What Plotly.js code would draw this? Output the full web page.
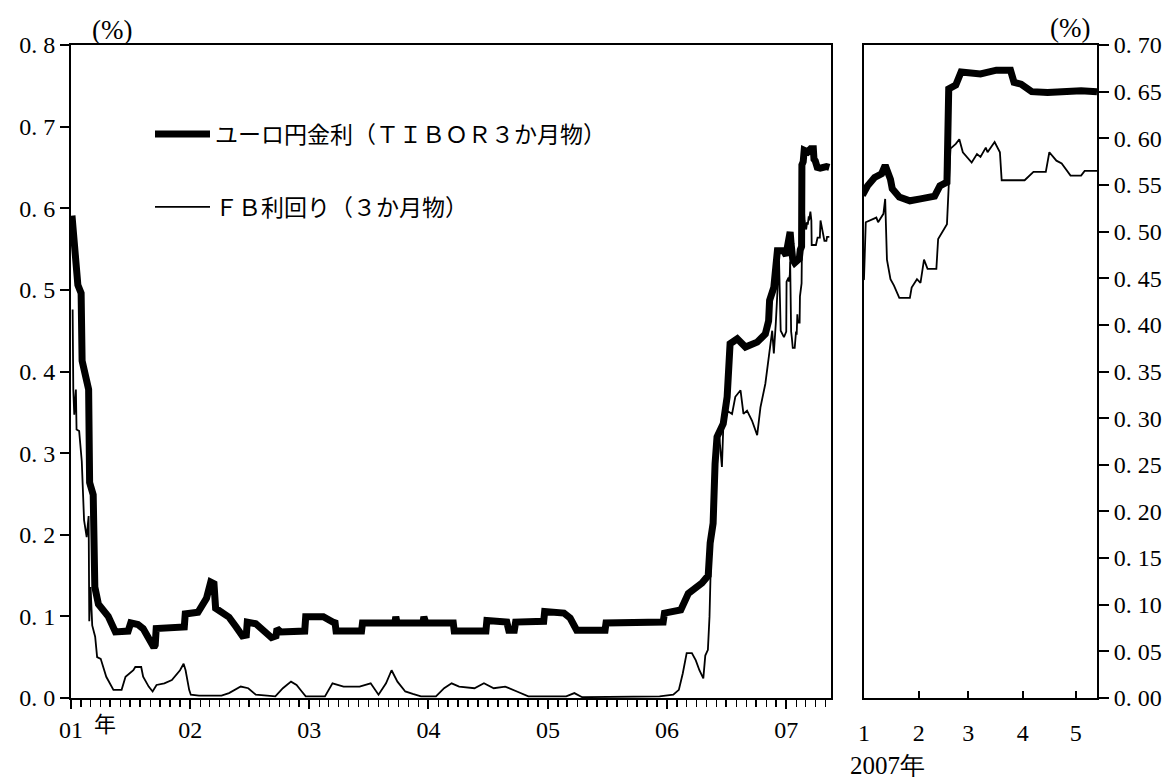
<!DOCTYPE html>
<html>
<head>
<meta charset="utf-8">
<script src="https://cdn.plot.ly/plotly-3.0.1.min.js"></script>
<style>
html,body{margin:0;padding:0;background:#fff;}
#chart{width:1173px;height:784px;}
</style>
</head>
<body>
<div id="chart"></div>
<script>
// ===== Data =====
const tiborName = "ユーロ円金利（ＴＩＢＯＲ３か月物）";
const fbName = "ＦＢ利回り（３か月物）";

const tiborDates = [
"2001-01-04","2001-01-12","2001-01-22","2001-02-01","2001-02-04","2001-02-24","2001-02-27","2001-03-10","2001-03-15","2001-03-26",
"2001-04-25","2001-05-17","2001-06-25","2001-07-03","2001-07-25","2001-08-10","2001-08-26","2001-09-12","2001-09-16","2001-09-19",
"2001-12-14","2001-12-17","2002-01-25","2002-02-20","2002-03-05","2002-03-15","2002-03-20","2002-04-30","2002-05-22","2002-06-10",
"2002-06-22","2002-06-25","2002-07-21","2002-08-14","2002-09-07","2002-09-21","2002-09-24","2002-10-05","2002-12-18","2002-12-21",
"2003-02-13","2003-03-14","2003-03-21","2003-03-24","2003-06-10","2003-06-13","2003-09-20","2003-09-23","2003-09-27","2003-12-15",
"2003-12-18","2003-12-24","2004-03-17","2004-03-20","2004-06-25","2004-06-28","2004-08-28","2004-09-03","2004-09-20","2004-09-24",
"2004-12-19","2004-12-22","2005-02-19","2005-03-10","2005-03-25","2005-03-30","2005-06-25","2005-06-28","2005-12-20","2005-12-24",
"2006-02-12","2006-03-07","2006-04-18","2006-05-07","2006-05-13","2006-05-22","2006-05-28","2006-06-03","2006-06-22","2006-07-04",
"2006-07-13","2006-08-04","2006-08-29","2006-10-04","2006-10-29","2006-11-08","2006-11-11","2006-11-24","2006-11-30","2006-12-05",
"2006-12-24",
"2007-01-01","2007-01-03","2007-01-07","2007-01-11","2007-01-13","2007-01-16","2007-01-17","2007-01-21","2007-01-27","2007-02-02",
"2007-02-10","2007-02-13","2007-02-17","2007-02-18","2007-02-22","2007-02-25","2007-03-08","2007-03-17","2007-03-25","2007-03-27",
"2007-03-31","2007-04-06","2007-04-15","2007-05-04","2007-05-13"
];
const tiborValues = [
0.591,0.548,0.506,0.496,0.413,0.378,0.264,0.249,0.136,0.115,
0.100,0.081,0.082,0.092,0.090,0.085,0.075,0.062,0.065,0.085,
0.087,0.103,0.105,0.122,0.142,0.140,0.110,0.099,0.087,0.076,
0.077,0.093,0.091,0.083,0.074,0.076,0.085,0.081,0.082,0.0995,
0.0995,0.093,0.092,0.082,0.082,0.092,0.092,0.0995,0.092,0.092,
0.0995,0.092,0.092,0.082,0.082,0.095,0.093,0.083,0.083,0.093,
0.094,0.106,0.104,0.098,0.088,0.083,0.083,0.092,0.093,0.104,
0.108,0.128,0.141,0.150,0.190,0.214,0.287,0.320,0.336,0.369,
0.434,0.440,0.430,0.436,0.446,0.462,0.487,0.503,0.528,0.548,
0.548,
0.542,0.549,0.558,0.562,0.571,0.556,0.546,0.537,0.533,0.535,
0.538,0.549,0.553,0.653,0.657,0.671,0.669,0.673,0.673,0.660,
0.658,0.650,0.649,0.651,0.650
];

const fbDates = [
"2001-01-06","2001-01-08","2001-01-11","2001-01-16","2001-01-18","2001-01-26","2001-02-03","2001-02-10","2001-02-18","2001-02-24",
"2001-02-26","2001-03-02","2001-03-07","2001-03-16","2001-03-22","2001-04-02","2001-04-19","2001-05-11","2001-06-05","2001-06-17",
"2001-07-11","2001-07-17","2001-08-04","2001-08-10","2001-08-27","2001-09-08","2001-09-20","2001-10-14","2001-11-06","2001-12-01",
"2001-12-12","2001-12-18","2001-12-29","2002-01-03","2002-01-28","2002-04-07","2002-04-30","2002-06-05","2002-06-28","2002-07-21",
"2002-09-19","2002-10-12","2002-11-06","2002-11-23","2002-12-09","2002-12-21","2003-02-18","2003-03-13","2003-04-16","2003-06-04",
"2003-07-08","2003-08-01","2003-08-24","2003-09-10","2003-09-28","2003-10-22","2003-11-14","2003-12-09","2004-01-24","2004-02-18",
"2004-03-12","2004-04-04","2004-05-21","2004-06-19","2004-07-19","2004-08-23","2004-09-28","2004-11-02","2005-02-26","2005-03-23",
"2005-04-16","2005-12-09","2006-01-20","2006-02-06","2006-02-18","2006-03-02","2006-03-18","2006-03-30","2006-04-10","2006-04-22",
"2006-04-28","2006-05-06","2006-05-11","2006-05-16","2006-05-22","2006-06-01","2006-06-10","2006-06-18","2006-06-22","2006-07-04",
"2006-07-19","2006-07-29","2006-08-14","2006-08-23","2006-09-03","2006-09-18","2006-10-04","2006-10-14","2006-10-29","2006-11-09",
"2006-11-19","2006-11-24","2006-11-30","2006-12-10","2006-12-15","2006-12-25",
"2007-01-01","2007-01-02","2007-01-06","2007-01-08","2007-01-09","2007-01-12","2007-01-13","2007-01-14","2007-01-16","2007-01-18",
"2007-01-21","2007-01-27","2007-01-28","2007-01-31","2007-02-02","2007-02-04","2007-02-06","2007-02-11","2007-02-12","2007-02-15",
"2007-02-17","2007-02-18","2007-02-19","2007-02-22","2007-02-24","2007-02-26","2007-03-03","2007-03-06","2007-03-08","2007-03-11",
"2007-03-12","2007-03-16","2007-03-19","2007-03-20","2007-04-02","2007-04-07","2007-04-14","2007-04-16","2007-04-20","2007-04-23",
"2007-04-28","2007-05-04","2007-05-06","2007-05-13"
];
const fbValues = [
0.476,0.378,0.347,0.378,0.329,0.327,0.290,0.218,0.197,0.223,
0.094,0.136,0.089,0.075,0.050,0.048,0.026,0.010,0.010,0.026,
0.034,0.038,0.038,0.026,0.014,0.008,0.016,0.018,0.022,0.034,
0.042,0.034,0.010,0.004,0.003,0.003,0.006,0.014,0.012,0.004,
0.002,0.012,0.020,0.016,0.008,0.002,0.002,0.018,0.014,0.014,
0.018,0.004,0.018,0.034,0.020,0.008,0.005,0.002,0.002,0.012,
0.018,0.014,0.012,0.018,0.012,0.014,0.008,0.002,0.002,0.006,
0.001,0.002,0.004,0.010,0.030,0.055,0.055,0.046,0.034,0.024,
0.052,0.059,0.100,0.180,0.220,0.300,0.320,0.283,0.330,0.352,
0.348,0.369,0.377,0.348,0.352,0.340,0.322,0.356,0.385,0.422,
0.450,0.422,0.459,0.536,0.450,0.442,
0.449,0.510,0.513,0.515,0.510,0.519,0.535,0.470,0.449,0.442,
0.429,0.429,0.440,0.449,0.445,0.470,0.460,0.460,0.492,0.501,
0.508,0.549,0.589,0.594,0.599,0.585,0.574,0.583,0.580,0.590,
0.585,0.596,0.585,0.555,0.555,0.564,0.564,0.585,0.576,0.573,
0.560,0.560,0.565,0.565
];

const leftYTicks = [0,0.1,0.2,0.3,0.4,0.5,0.6,0.7,0.8];
const leftYTickText = ["0. 0","0. 1","0. 2","0. 3","0. 4","0. 5","0. 6","0. 7","0. 8"];
const rightYTicks = [0,0.05,0.10,0.15,0.20,0.25,0.30,0.35,0.40,0.45,0.50,0.55,0.60,0.65,0.70];
const rightYTickText = ["0. 00","0. 05","0. 10","0. 15","0. 20","0. 25","0. 30","0. 35","0. 40","0. 45","0. 50","0. 55","0. 60","0. 65","0. 70"];
const monthTicks = ["2007-01-01","2007-02-01","2007-03-01","2007-04-01","2007-05-01"];
const monthTickText = ["1","2","3","4","5"];

// ===== Styling =====
const serif = 'Liberation Serif';
const jp = 'Noto Sans CJK JP';
const tickFont = {family: serif, size: 24, color: '#000'};

const traces = [
  {x: tiborDates, y: tiborValues, xaxis: 'x', yaxis: 'y', type: 'scatter', mode: 'lines',
   name: tiborName, line: {color: '#000', width: 7}, legend: 'legend'},
  {x: fbDates, y: fbValues, xaxis: 'x', yaxis: 'y', type: 'scatter', mode: 'lines',
   name: fbName, line: {color: '#000', width: 1.8}, legend: 'legend2'},
  {x: tiborDates, y: tiborValues, xaxis: 'x2', yaxis: 'y2', type: 'scatter', mode: 'lines',
   name: tiborName, line: {color: '#000', width: 7}, showlegend: false},
  {x: fbDates, y: fbValues, xaxis: 'x2', yaxis: 'y2', type: 'scatter', mode: 'lines',
   name: fbName, line: {color: '#000', width: 1.8}, showlegend: false}
];

const axisCommon = {showgrid: false, zeroline: false, showline: true, linecolor: '#000',
  linewidth: 2, mirror: true, tickcolor: '#000', tickfont: tickFont, fixedrange: true};

const layout = {
  width: 1173, height: 784,
  margin: {l: 71, r: 76, t: 45, b: 86, pad: 0},
  paper_bgcolor: '#fff', plot_bgcolor: '#fff',
  font: {family: serif, color: '#000'},
  xaxis: Object.assign({}, axisCommon, {
    type: 'date', domain: [0, 0.7407], anchor: 'y',
    range: ['2001-01-01', '2007-05-18'],
    tickmode: 'linear', tick0: '2001-01-01', dtick: 'M12', tickformat: '%y',
    ticks: 'outside', ticklen: 9, tickwidth: 2,
    minor: {tickmode: 'linear', tick0: '2001-01-01', dtick: 'M1', ticks: 'outside', ticklen: 7, tickwidth: 1.5, tickcolor: '#000', showgrid: false}
  }),
  yaxis: Object.assign({}, axisCommon, {
    domain: [0, 1], anchor: 'x', range: [0, 0.8],
    tickmode: 'array', tickvals: leftYTicks, ticktext: leftYTickText,
    ticks: 'outside', ticklen: 9, tickwidth: 2
  }),
  xaxis2: Object.assign({}, axisCommon, {
    type: 'date', domain: [0.7729, 1], anchor: 'y2',
    range: ['2007-01-01', '2007-05-13'],
    tickmode: 'array', tickvals: monthTicks, ticktext: monthTickText,
    ticks: 'inside', ticklen: 7, tickwidth: 2, ticklabelstandoff: 12
  }),
  yaxis2: Object.assign({}, axisCommon, {
    domain: [0, 1], anchor: 'x2', side: 'right', range: [0, 0.70],
    tickmode: 'array', tickvals: rightYTicks, ticktext: rightYTickText,
    ticks: 'outside', ticklen: 10, tickwidth: 2
  }),
  showlegend: true,
  legend: {x: 0.077, y: 0.8637, xanchor: 'left', yanchor: 'middle',
    bgcolor: 'rgba(0,0,0,0)', borderwidth: 0, itemwidth: 55,
    font: {family: jp, size: 23, color: '#000'}},
  legend2: {x: 0.077, y: 0.7519, xanchor: 'left', yanchor: 'middle',
    bgcolor: 'rgba(0,0,0,0)', borderwidth: 0, itemwidth: 55,
    font: {family: jp, size: 23, color: '#000'}},
  annotations: [
    {xref: 'paper', yref: 'paper', x: 0.040, y: 1.023, text: '(%)', showarrow: false,
     xanchor: 'center', yanchor: 'middle', font: {family: serif, size: 27, color: '#000'}},
    {xref: 'paper', yref: 'paper', x: 0.9737, y: 1.026, text: '(%)', showarrow: false,
     xanchor: 'center', yanchor: 'middle', font: {family: serif, size: 27, color: '#000'}},
    {xref: 'paper', yref: 'paper', x: 0.0331, y: -0.0368, text: '年', showarrow: false,
     xanchor: 'center', yanchor: 'middle', font: {family: jp, size: 22, color: '#000'}},
    {xref: 'paper', yref: 'paper', x: 0.796, y: -0.104, text: '2007年', showarrow: false,
     xanchor: 'center', yanchor: 'middle', font: {family: serif, size: 25, color: '#000'}}
  ]
};

Plotly.newPlot('chart', traces, layout, {staticPlot: true, displayModeBar: false});
</script>
</body>
</html>
